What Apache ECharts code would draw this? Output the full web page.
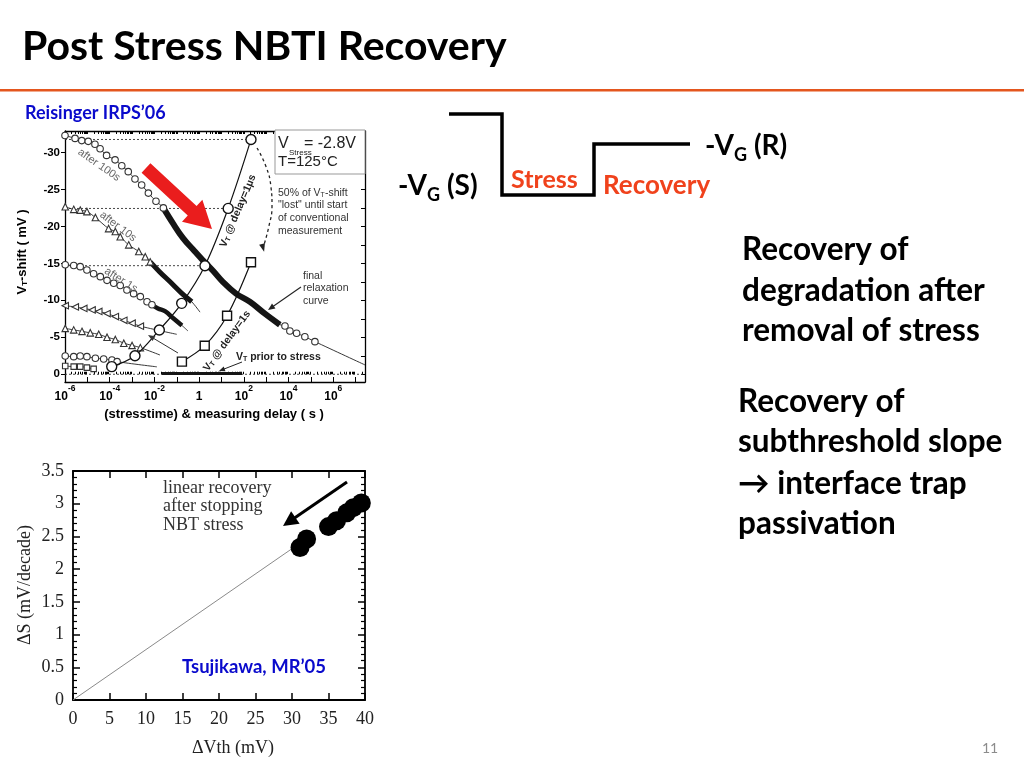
<!DOCTYPE html>
<html><head><meta charset="utf-8">
<script src="https://cdn.jsdelivr.net/npm/echarts@6/dist/echarts.min.js"></script>
<style>html,body{margin:0;padding:0;background:#fff}#c{width:1024px;height:768px}</style>
</head><body><div id="c"></div>
<script>
// ================= DATA =================
// Top chart (Reisinger IRPS'06). x = log10 of (stresstime) & measuring delay in s, y = VT-shift in mV
const xDecadeLabelsTop = [-6, -4, -2, 0, 2, 4, 6];
const yTickLabelsTop = [-30, -25, -20, -15, -10, -5, 0];

const after100sLogT  = [-6.0,-5.55,-5.25,-4.96,-4.66,-4.43,-4.14,-3.76,-3.46,-3.17,-2.87,-2.57,-2.27,-1.93,-1.60];
const after100sShift = [-32.3,-31.9,-31.6,-31.5,-31.1,-30.5,-29.6,-29.0,-28.2,-27.4,-26.4,-25.6,-24.5,-23.4,-22.5];
const finalDenseLogT  = [-1.60,-1.17,-0.72,-0.28,0.17,0.62,1.06,1.65,2.27,2.94,3.61];
const finalDenseShift = [-22.5,-20.4,-18.4,-16.9,-15.4,-14.0,-12.5,-10.9,-9.8,-8.2,-6.7];
const finalTailLogT  = [3.84,4.06,4.36,4.73,5.18];
const finalTailShift = [-6.53,-5.85,-5.54,-5.08,-4.41];
const finalFitEnd = [7.42, -1.26];

const after10sLogT  = [-5.99,-5.61,-5.32,-5.02,-4.64,-4.05,-3.75,-3.53,-3.15,-2.70,-2.41,-2.19];
const after10sShift = [-22.65,-22.3,-22.2,-22.0,-21.2,-19.7,-19.3,-18.6,-17.5,-16.6,-15.9,-15.2];
const after10sDenseLogT  = [-2.19,-1.75,-1.30,-0.81,-0.33];
const after10sDenseShift = [-15.2,-13.8,-12.5,-11.05,-9.8];
const after10sFitEnd = [0.04, -8.4];

const after1sLogT  = [-5.99,-5.61,-5.32,-5.02,-4.72,-4.42,-4.12,-3.82,-3.53,-3.23,-2.93,-2.63,-2.33,-2.11];
const after1sShift = [-14.8,-14.7,-14.55,-14.1,-13.6,-13.2,-12.7,-12.3,-12.0,-11.4,-10.9,-10.5,-9.8,-9.4];
const after1sDenseLogT  = [-2.11,-1.84,-1.51,-1.17,-0.77];
const after1sDenseShift = [-9.4,-8.9,-8.5,-7.6,-6.6];
const after1sFitEnd = [-0.50, -5.85];

const leftTriLogT  = [-5.99,-5.54,-5.16,-4.79,-4.49,-4.12,-3.75,-3.37,-3.0,-2.63];
const leftTriShift = [-9.27,-9.1,-8.9,-8.7,-8.5,-8.2,-7.8,-7.3,-6.9,-6.5];
const leftTriFitEnd = [-1.0, -5.4];

const upTriLogT  = [-5.99,-5.61,-5.24,-4.87,-4.49,-4.12,-3.75,-3.37,-3.0,-2.63];
const upTriShift = [-6.2,-6.0,-5.8,-5.6,-5.4,-5.0,-4.7,-4.2,-3.9,-3.6];
const upTriFitEnd = [-1.75, -2.6];

const smallCircLogT  = [-5.99,-5.61,-5.32,-5.02,-4.64,-4.27,-3.90,-3.67];
const smallCircShift = [-2.47,-2.38,-2.47,-2.38,-2.16,-2.07,-1.93,-1.7];
const smallCircFitEnd = [-1.89, -1.0];

const squareLogT  = [-5.99,-5.61,-5.32,-5.02,-4.72];
const squareShift = [-1.12,-1.03,-1.03,-0.9,-0.72];

const delay1usLogT  = [-3.91,-2.87,-1.78,-0.78,0.26,1.30,2.32];
const delay1usShift = [-1.03,-2.51,-5.99,-9.59,-14.68,-22.43,-31.76];
const delay1sLogT  = [-0.77,0.25,1.25,2.32];
const delay1sShift = [-1.70,-3.86,-7.92,-15.14];

const priorLogT  = [-1.66, 1.92];
const priorShift = [-0.1, -0.1];

const lostArcLogT  = [2.59,2.99,3.21,3.26,3.12,2.86];
const lostArcShift = [-30.6,-28.1,-25.4,-22.8,-20.0,-17.1];

// Bottom chart (Tsujikawa, MR'05)
const deltaVth = [31.1,32.0,35.0,36.1,37.5,38.4,39.5];
const deltaS   = [2.33,2.46,2.65,2.74,2.86,2.94,3.01];
const fitVth = [0, 31.0];
const fitS   = [0, 2.39];

// ================= HELPERS =================
const zip = (xs, ys) => xs.map((x, i) => [x, ys[i]]);
const FS = 'Lato, "Open Sans", sans-serif';
const FA = '"Liberation Sans", Arial, sans-serif';
const FT = '"Liberation Serif", "Times New Roman", serif';

const decadeTicks = [];
for (let n = -6; n <= 7; n++) decadeTicks.push(n);
const minorTicks = [];
for (let n = -6; n <= 7; n++) for (let k = 2; k <= 9; k++) { const v = n + Math.log10(k); if (v < 7.42) minorTicks.push(v); }
const halfTicksY = [];
for (let v = -32.5; v <= 0; v += 2.5) halfTicksY.push(v);

function logLabel(v) {
  if (Math.abs(v) < 1e-9) return '{b|1}';
  return '{b|10}{sup|' + v + '}';
}

const S0 = { xAxisIndex: 0, yAxisIndex: 0, animation: false, silent: true };
function fitLine(pts, w) { return Object.assign({ type: 'line', data: pts, symbol: 'none', smooth: 0.3, lineStyle: { color: '#222', width: w || 0.9 }, z: 2 }, S0); }
function markers(pts, symbol, size, rot) {
  return Object.assign({ type: 'scatter', data: pts, symbol: symbol, symbolSize: size, symbolRotate: rot || 0,
    itemStyle: { color: '#fff', borderColor: '#333', borderWidth: 1.1, opacity: 1 }, z: 4 }, S0);
}
function dense(pts, w) { return Object.assign({ type: 'line', data: pts, symbol: 'none', smooth: 0.4, lineStyle: { color: '#151515', width: w }, z: 3 }, S0); }
function dashed(pts) { return Object.assign({ type: 'line', data: pts, symbol: 'none', lineStyle: { color: '#333', width: 0.9, type: [2, 2] }, z: 1 }, S0); }

const series = [];
// dashed reference lines
series.push(dashed([[-6, 0], [7.42, 0]]));
[4, 5, 6].forEach(i => series.push(dashed([[-6, delay1usShift[i]], [delay1usLogT[i], delay1usShift[i]]])));
// fit lines
series.push(fitLine(zip(after100sLogT, after100sShift).concat(zip(finalDenseLogT, finalDenseShift).slice(1), zip(finalTailLogT, finalTailShift), [finalFitEnd])));
series.push(fitLine(zip(after10sLogT, after10sShift).concat(zip(after10sDenseLogT, after10sDenseShift).slice(1), [after10sFitEnd])));
series.push(fitLine(zip(after1sLogT, after1sShift).concat(zip(after1sDenseLogT, after1sDenseShift).slice(1), [after1sFitEnd])));
series.push(fitLine(zip(leftTriLogT, leftTriShift).concat([leftTriFitEnd])));
series.push(fitLine(zip(upTriLogT, upTriShift).concat([upTriFitEnd])));
series.push(fitLine(zip(smallCircLogT, smallCircShift).concat([smallCircFitEnd])));
series.push(fitLine(zip(squareLogT, squareShift)));
// dense measured traces
series.push(dense(zip(finalDenseLogT, finalDenseShift), 6));
series.push(dense(zip(after10sDenseLogT, after10sDenseShift), 5));
series.push(dense(zip(after1sDenseLogT, after1sDenseShift), 4.5));
series.push(dense(zip(priorLogT, priorShift), 3));
// markers
series.push(markers(zip(after100sLogT, after100sShift), 'circle', 6.5));
series.push(markers(zip(finalTailLogT, finalTailShift), 'circle', 6.5));
series.push(markers(zip(after10sLogT, after10sShift), 'triangle', 6.5));
series.push(markers(zip(after1sLogT, after1sShift), 'circle', 6.5));
series.push(markers(zip(leftTriLogT, leftTriShift), 'triangle', 6.5, 90));
series.push(markers(zip(upTriLogT, upTriShift), 'triangle', 6.5));
series.push(markers(zip(smallCircLogT, smallCircShift), 'circle', 6.5));
series.push(markers(zip(squareLogT, squareShift), 'rect', 5.5));
// delay curves
series.push(Object.assign({ type: 'line', data: zip(delay1usLogT, delay1usShift), smooth: 0.35, symbol: 'circle', symbolSize: 10,
  lineStyle: { color: '#111', width: 1.2 }, itemStyle: { color: '#fff', borderColor: '#111', borderWidth: 1.4 }, z: 5 }, S0));
series.push(Object.assign({ type: 'line', data: zip(delay1sLogT, delay1sShift), smooth: 0.35, symbol: 'rect', symbolSize: 9,
  lineStyle: { color: '#111', width: 1.2 }, itemStyle: { color: '#fff', borderColor: '#111', borderWidth: 1.4 }, z: 5 }, S0));
// "lost" dashed arc
const arcPts = zip(lostArcLogT, lostArcShift).map((p, i, a) => i === a.length - 1 ? { value: p, symbol: 'triangle', symbolSize: [6, 8], symbolRotate: 195 } : { value: p });
series.push(Object.assign({ type: 'line', data: arcPts, smooth: 0.5, symbol: 'none', showSymbol: true,
  lineStyle: { color: '#222', width: 1.3, type: [3, 3] }, itemStyle: { color: '#222' }, z: 5 }, S0));

// bottom chart
series.push({ type: 'line', xAxisIndex: 3, yAxisIndex: 2, data: zip(fitVth, fitS), symbol: 'none', silent: true,
  lineStyle: { color: '#8a8a8a', width: 1 }, z: 2 });
series.push({ type: 'scatter', xAxisIndex: 3, yAxisIndex: 2, data: zip(deltaVth, deltaS), symbol: 'circle', symbolSize: 19,
  itemStyle: { color: '#000', opacity: 1 }, silent: true, z: 3 });

// ================= AXES =================
const blackLine = w => ({ show: true, onZero: false, lineStyle: { color: '#000', width: w } });
const xTop = {
  min: -6, max: 7.42, type: 'value', splitLine: { show: false }
};
const xAxes = [
  Object.assign({}, xTop, { gridIndex: 0, position: 'bottom', axisLine: blackLine(1.3),
    axisTick: { inside: true, length: 5, customValues: decadeTicks, lineStyle: { color: '#000' } },
    axisLabel: { customValues: xDecadeLabelsTop, formatter: logLabel, margin: 2, color: '#000',
      rich: { b: { fontSize: 12, fontWeight: 'bold', fontFamily: FA, color: '#000', lineHeight: 19, verticalAlign: 'bottom' },
              sup: { fontSize: 8.5, fontWeight: 'bold', fontFamily: FA, color: '#000', lineHeight: 9, verticalAlign: 'top' } } } }),
  Object.assign({}, xTop, { gridIndex: 0, position: 'bottom', axisLine: { show: false },
    axisTick: { inside: true, length: 2.5, customValues: minorTicks, lineStyle: { color: '#000' } }, axisLabel: { show: false } }),
  Object.assign({}, xTop, { gridIndex: 0, position: 'top', axisLine: blackLine(1.3),
    axisTick: { inside: true, length: 3, customValues: decadeTicks.concat(minorTicks), lineStyle: { color: '#000' } }, axisLabel: { show: false } }),
  { gridIndex: 1, type: 'value', position: 'bottom', min: 0, max: 40, interval: 5, splitLine: { show: false }, axisLine: blackLine(1.8),
    axisTick: { inside: true, length: 7, lineStyle: { color: '#000', width: 1.5 } },
    axisLabel: { fontFamily: FT, fontSize: 18, color: '#222', margin: 10 } },
  { gridIndex: 1, type: 'value', position: 'top', min: 0, max: 40, interval: 5, splitLine: { show: false }, axisLine: blackLine(1.8),
    axisTick: { inside: true, length: 7, lineStyle: { color: '#000', width: 1.5 } }, axisLabel: { show: false } }
];
const yAxes = [
  { gridIndex: 0, type: 'value', position: 'left', inverse: true, min: -32.9, max: 1.05, splitLine: { show: false }, axisLine: blackLine(1.3),
    axisTick: { inside: false, length: 4, customValues: yTickLabelsTop, lineStyle: { color: '#000' } },
    axisLabel: { customValues: yTickLabelsTop, fontFamily: FA, fontWeight: 'bold', fontSize: 11.5, color: '#000', margin: 5 } },
  { gridIndex: 0, type: 'value', position: 'right', inverse: true, min: -32.9, max: 1.05, splitLine: { show: false }, axisLine: blackLine(1.3),
    axisTick: { inside: true, length: 4, customValues: halfTicksY, lineStyle: { color: '#000' } }, axisLabel: { show: false } },
  { gridIndex: 1, type: 'value', position: 'left', min: 0, max: 3.5, interval: 0.5, splitLine: { show: false }, axisLine: blackLine(1.8),
    axisTick: { inside: true, length: 7, lineStyle: { color: '#000', width: 1.5 } },
    minorTick: { show: true, splitNumber: 5, length: 4, lineStyle: { color: '#000', width: 1.2 } },
    axisLabel: { fontFamily: FT, fontSize: 18, color: '#222', margin: 9 } },
  { gridIndex: 1, type: 'value', position: 'right', min: 0, max: 3.5, interval: 0.5, splitLine: { show: false }, axisLine: blackLine(1.8),
    axisTick: { inside: true, length: 7, lineStyle: { color: '#000', width: 1.5 } },
    minorTick: { show: true, splitNumber: 5, length: 4, lineStyle: { color: '#000', width: 1.2 } }, axisLabel: { show: false } }
];

// ================= GRAPHICS (slide decoration & annotations) =================
const G = [];
function txt(x, y, text, o) {
  o = o || {};
  G.push({ type: 'text', x: x, y: y, rotation: o.rot || 0, z: 100,
    style: { text: text, fill: o.color || '#000', font: o.font, align: o.align || 'left', verticalAlign: o.va || 'middle', rich: o.rich } });
}
function arrow(x1, y1, x2, y2, w, hl, hw, color) {
  const dx = x2 - x1, dy = y2 - y1, L = Math.hypot(dx, dy), ux = dx / L, uy = dy / L, nx = -uy, ny = ux;
  const bx = x2 - ux * hl, by = y2 - uy * hl;
  G.push({ type: 'line', z: 100, shape: { x1: x1, y1: y1, x2: bx + ux * 1, y2: by + uy * 1 }, style: { stroke: color, lineWidth: w } });
  G.push({ type: 'polygon', z: 100, shape: { points: [[x2, y2], [bx + nx * hw, by + ny * hw], [bx - nx * hw, by - ny * hw]] }, style: { fill: color } });
}
function fatArrow(x1, y1, x2, y2, sw, hl, hw, color) {
  const dx = x2 - x1, dy = y2 - y1, L = Math.hypot(dx, dy), ux = dx / L, uy = dy / L, nx = -uy, ny = ux;
  const bx = x2 - ux * hl, by = y2 - uy * hl;
  G.push({ type: 'polygon', z: 100, shape: { points: [
    [x1 + nx * sw, y1 + ny * sw], [bx + nx * sw, by + ny * sw], [bx + nx * hw, by + ny * hw], [x2, y2],
    [bx - nx * hw, by - ny * hw], [bx - nx * sw, by - ny * sw], [x1 - nx * sw, y1 - ny * sw]] }, style: { fill: color } });
}

// title + rule
txt(22, 47, 'Post Stress NBTI Recovery', { font: 'bold 41px ' + FS });
G.push({ type: 'rect', z: 100, shape: { x: 0, y: 89, width: 1024, height: 2.5 }, style: { fill: '#E4561E' } });
txt(25, 113, 'Reisinger IRPS\u201906', { font: 'bold 18px ' + FS, color: '#0A0ACC' });

// top chart axis titles
txt(22, 252, 'V{s|T}-shift ( mV )', { rot: Math.PI / 2, align: 'center', font: 'bold 13px ' + FA,
  rich: { s: { fontSize: 8, fontWeight: 'bold', fontFamily: FA, lineHeight: 8, verticalAlign: 'bottom', fill: '#000' } } });
txt(214, 414, '(stresstime) & measuring delay ( s )', { align: 'center', font: 'bold 13px ' + FA });

// V stress box
G.push({ type: 'rect', z: 99, shape: { x: 275, y: 130, width: 90, height: 44 }, style: { fill: '#fff', stroke: '#999', lineWidth: 1 } });
txt(278, 144, 'V', { font: '16px ' + FA, color: '#222' });
txt(289, 153, 'Stress', { font: '8px ' + FA, color: '#222' });
txt(304, 144, '= -2.8V', { font: '16px ' + FA, color: '#222' });
txt(278, 162, 'T=125\u00B0C', { font: '15px ' + FA, color: '#222' });

const subRich = { s: { fontSize: 7, fontFamily: FA, lineHeight: 7, verticalAlign: 'bottom', fill: '#333' } };
txt(278, 193, '50% of V{s|T}-shift', { font: '10.5px ' + FA, color: '#333', rich: subRich });
txt(278, 205.5, '"lost" until start', { font: '10.5px ' + FA, color: '#333' });
txt(278, 218, 'of conventional', { font: '10.5px ' + FA, color: '#333' });
txt(278, 231, 'measurement', { font: '10.5px ' + FA, color: '#333' });
txt(303, 276.5, 'final', { font: '10.5px ' + FA, color: '#333' });
txt(303, 288.5, 'relaxation', { font: '10.5px ' + FA, color: '#333' });
txt(303, 301.5, 'curve', { font: '10.5px ' + FA, color: '#333' });
arrow(301, 287, 268, 310, 1.1, 7, 3, '#222');
txt(236, 357, 'V{s|T} prior to stress', { font: 'bold 10.5px ' + FA, color: '#222',
  rich: { s: { fontSize: 7, fontWeight: 'bold', fontFamily: FA, lineHeight: 7, verticalAlign: 'bottom', fill: '#222' } } });
arrow(242, 362, 219, 371, 1, 6, 2.5, '#222');
arrow(178, 353, 148, 335, 1, 7, 2.8, '#333');

// rotated curve labels
txt(99, 165, 'after 100s', { rot: -0.61, align: 'center', font: '11px ' + FA, color: '#666' });
txt(118, 226.5, 'after 10s', { rot: -0.65, align: 'center', font: '11px ' + FA, color: '#666' });
txt(121, 280, 'after 1s', { rot: -0.56, align: 'center', font: '11px ' + FA, color: '#666' });
txt(238, 211, 'V{s|T} @ delay=1\u00B5s', { rot: 1.17, align: 'center', font: 'bold 10.5px ' + FA, color: '#222',
  rich: { s: { fontSize: 7, fontWeight: 'bold', fontFamily: FA, lineHeight: 7, verticalAlign: 'bottom', fill: '#222' } } });
txt(227, 341, 'V{s|T} @ delay=1s', { rot: 0.94, align: 'center', font: 'bold 10.5px ' + FA, color: '#222',
  rich: { s: { fontSize: 7, fontWeight: 'bold', fontFamily: FA, lineHeight: 7, verticalAlign: 'bottom', fill: '#222' } } });

// red arrow
fatArrow(146, 168, 212, 229, 6.5, 27, 15, '#EA1D1D');

// bottom chart texts
txt(25, 585, '\u0394S (mV/decade)', { rot: Math.PI / 2, align: 'center', font: '18px ' + FT, color: '#222' });
txt(233, 748, '\u0394Vth (mV)', { align: 'center', font: '18px ' + FT, color: '#222' });
txt(163, 488, 'linear recovery', { font: '18px ' + FT, color: '#333' });
txt(163, 506.5, 'after stopping', { font: '18px ' + FT, color: '#333' });
txt(163, 525, 'NBT stress', { font: '18px ' + FT, color: '#333' });
arrow(347, 482, 283, 526, 3, 15, 7.5, '#000');
txt(182, 667, 'Tsujikawa, MR\u201905', { font: 'bold 18.5px ' + FS, color: '#0A0ACC' });

// waveform
G.push({ type: 'polyline', z: 100, shape: { points: [[449, 114], [502, 114], [502, 195], [594, 195], [594, 144], [690, 144]] },
  style: { stroke: '#000', lineWidth: 3.5, fill: null, lineJoin: 'miter' } });
const vgRich = { n: { fontSize: 28, fontWeight: 'bold', fontFamily: FS, lineHeight: 36, fill: '#000' },
                 g: { fontSize: 18, fontWeight: 'bold', fontFamily: FS, lineHeight: 18, verticalAlign: 'bottom', fill: '#000' } };
txt(398, 186, '{n|-V}{g|G}{n| (S)}', { rich: vgRich });
txt(705, 146, '{n|-V}{g|G}{n| (R)}', { rich: vgRich });
txt(511, 180, 'Stress', { font: 'bold 25px ' + FS, color: '#F0421C' });
txt(603, 186, 'Recovery', { font: 'bold 26px ' + FS, color: '#F0421C' });

// body text
const bodyFont = 'bold 31.5px ' + FS;
txt(742, 250, 'Recovery of', { font: bodyFont });
txt(742, 291, 'degradation after', { font: bodyFont });
txt(742, 331, 'removal of stress', { font: bodyFont });
txt(738, 402, 'Recovery of', { font: bodyFont });
txt(738, 442, 'subthreshold slope', { font: bodyFont });
txt(738, 484, '\u2192 interface trap', { font: bodyFont });
txt(738, 524, 'passivation', { font: bodyFont });

txt(990, 748, '11', { align: 'center', font: '14px ' + FS, color: '#8c8c8c' });

// ================= RENDER =================
const chart = echarts.init(document.getElementById('c'), null, { renderer: 'canvas', width: 1024, height: 768 });
chart.setOption({
  animation: false,
  backgroundColor: '#fff',
  grid: [{ left: 65, top: 131, width: 300, height: 251 }, { left: 73, top: 471, width: 292, height: 229 }],
  xAxis: xAxes,
  yAxis: yAxes,
  series: series,
  graphic: { elements: G }
});
</script>
</body></html>
